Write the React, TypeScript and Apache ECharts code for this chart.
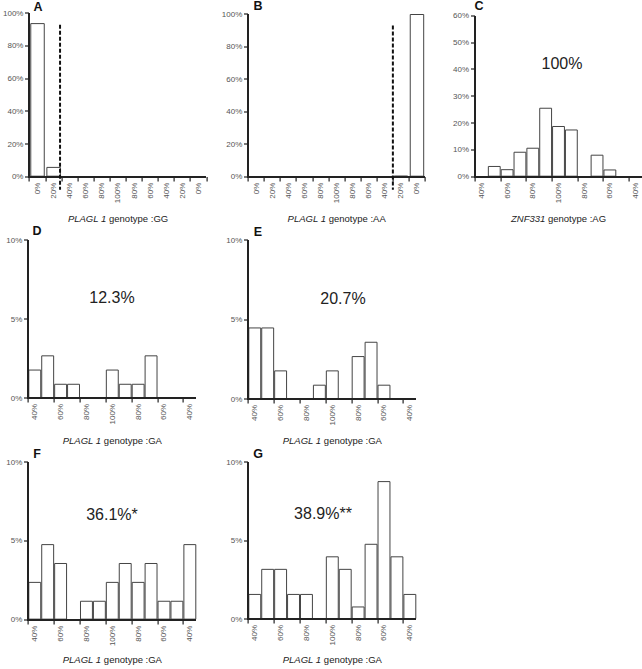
import React, { useEffect, useRef } from "react";
import * as echarts from "echarts";

// Tick labels
const labelsAB = ["0%", "20%", "40%", "60%", "80%", "100%", "80%", "60%", "40%", "20%", "0%"];
const labels13 = ["40%", "", "60%", "", "80%", "", "100%", "", "80%", "", "60%", "", "40%"];

// Series values (percent)
const valuesA = [94, 6, 0, 0, 0, 0, 0, 0, 0, 0, 0];
const valuesB = [0, 0, 0, 0, 0, 0, 0, 0, 0, 0.6, 100];
const valuesC = [0, 4.0, 2.8, 9.3, 10.8, 25.7, 18.9, 17.6, 0, 8.2, 2.7, 0, 0];
const valuesD = [1.8, 2.7, 0.9, 0.9, 0, 0, 1.8, 0.9, 0.9, 2.7, 0, 0, 0];
const valuesE = [4.5, 4.5, 1.8, 0, 0, 0.9, 1.8, 0, 2.7, 3.6, 0.9, 0, 0];
const valuesF = [2.4, 4.8, 3.6, 0, 1.2, 1.2, 2.4, 3.6, 2.4, 3.6, 1.2, 1.2, 4.8];
const valuesG = [1.6, 3.2, 3.2, 1.6, 1.6, 0, 4.0, 3.2, 0.8, 4.8, 8.8, 4.0, 1.6];

// Dashed threshold positions (in bins from the left edge) for A and B; null = none
const thresholds = [1.9, 9, null, null, null, null, null];
const thresholdTop = 93;
const thresholdBottom = -8;

const panelLetters = ["A", "B", "C", "D", "E", "F", "G"];
const panelNotes = ["", "", "100%", "12.3%", "20.7%", "36.1%*", "38.9%**"];
const panelGenes = ["PLAGL 1", "PLAGL 1", "ZNF331", "PLAGL 1", "PLAGL 1", "PLAGL 1", "PLAGL 1"];
const panelGenotypes = ["GG", "AA", "AG", "GA", "GA", "GA", "GA"];
const yMaxes = [100, 100, 60, 10, 10, 10, 10];
const yIntervals = [20, 20, 10, 5, 5, 5, 5];
const allValues = [valuesA, valuesB, valuesC, valuesD, valuesE, valuesF, valuesG];

const FONT = "'Liberation Sans', Arial, sans-serif";
const AXIS_COLOR = "#222";

// layout (absolute page px)
const boxes = [
  { x: 0, y: 0, w: 220, h: 232 },
  { x: 212, y: 0, w: 222, h: 232 },
  { x: 425, y: 0, w: 217, h: 232 },
  { x: 0, y: 222, w: 222, h: 228 },
  { x: 212, y: 222, w: 222, h: 228 },
  { x: 0, y: 444, w: 222, h: 225 },
  { x: 212, y: 444, w: 222, h: 225 },
];
const grids = [
  { left: 29, top: 13.3, width: 177.5, height: 163.4 },
  { left: 248.3, top: 14, width: 176.7, height: 162.7 },
  { left: 475, top: 15.7, width: 167.3, height: 161 },
  { left: 28.3, top: 240, width: 168, height: 159.3 },
  { left: 248.3, top: 240, width: 168, height: 163.3 },
  { left: 28.3, top: 462.3, width: 168, height: 164.4 },
  { left: 248.3, top: 462.3, width: 168, height: 161 },
];
const nameGaps = [37, 37, 37, 37, 36, 32, 35];
const letterPos = [
  [38, 7], [258, 6], [479, 6], [37, 231], [258, 232], [37, 454], [258, 454],
];
const notePos = [
  [0, 0], [0, 0], [562, 63], [112, 297], [343, 298], [112, 514], [323, 513],
];

function buildOption(i: number) {
  const b = boxes[i];
  const g = grids[i];
  const labels = i < 2 ? labelsAB : labels13;
  const nBins = labels.length;
  const tickStep = i < 2 ? 1 : 2;
  const yMax = yMaxes[i];
  const yInt = yIntervals[i];

  const series: any[] = [
    {
      type: "bar",
      data: allValues[i].map((v) => (v === 0 ? null : v)),
      barCategoryGap: i < 2 ? "10%" : "0%",
      itemStyle: { color: "#fff", borderColor: "#444", borderWidth: 1 },
      silent: true,
    },
    // axis lines and ticks as filled rects, from the grid's coordinate system
    {
      type: "custom",
      silent: true,
      z: 10,
      clip: false,
      data: [[0, 0]],
      renderItem: (params: any, api: any) => {
        const cs = params.coordSys;
        const bw = cs.width / nBins;
        const y0 = Math.round(cs.y + cs.height);
        const xl = Math.round(cs.x);
        const children: any[] = [];
        for (let k = 0; k <= nBins; k += tickStep) {
          const x = Math.round(cs.x + k * bw);
          children.push({
            type: "rect",
            shape: { x: x - 0.5, y: y0, width: 1.2, height: 4.5 },
            style: { fill: AXIS_COLOR },
          });
        }
        for (let v = 0; v <= yMax + 1e-9; v += yInt) {
          const y = Math.round(api.coord([0, v])[1]);
          children.push({
            type: "rect",
            shape: { x: xl - 4, y: y - 0.6, width: 4, height: 1.2 },
            style: { fill: AXIS_COLOR },
          });
        }
        children.push({
          type: "rect",
          shape: { x: xl - 1, y: Math.round(cs.y), width: 2, height: y0 - Math.round(cs.y) + 1 },
          style: { fill: AXIS_COLOR },
        });
        children.push({
          type: "rect",
          shape: { x: xl - 1, y: y0 - 1, width: Math.round(cs.width) + 1, height: 2 },
          style: { fill: AXIS_COLOR },
        });
        return { type: "group", children };
      },
    },
  ];
  const th = thresholds[i];
  if (th !== null) {
    series.push({
      type: "custom",
      silent: true,
      z: 11,
      data: [[0, thresholdTop, thresholdBottom, th]],
      encode: { x: 0, y: 1 },
      renderItem: (params: any, api: any) => {
        const bw = api.size([1, 0])[0];
        const c0 = api.coord([0, api.value(1)]);
        const c1 = api.coord([0, api.value(2)]);
        const x = c0[0] - bw / 2 + api.value(3) * bw;
        return {
          type: "line",
          shape: { x1: x, y1: c0[1], x2: x, y2: c1[1] },
          style: { stroke: "#111", lineWidth: 2, lineDash: [4, 2] },
        };
      },
    });
  }
  const graphics: any[] = [
    {
      type: "text",
      x: letterPos[i][0] - b.x,
      y: letterPos[i][1] - b.y,
      style: {
        text: panelLetters[i],
        fontFamily: FONT,
        fontWeight: "bold",
        fontSize: 12.5,
        fill: "#111",
        textAlign: "center",
        textVerticalAlign: "middle",
      },
    },
  ];
  if (panelNotes[i]) {
    graphics.push({
      type: "text",
      x: notePos[i][0] - b.x,
      y: notePos[i][1] - b.y,
      style: {
        text: panelNotes[i],
        fontFamily: FONT,
        fontSize: 16,
        fill: "#222",
        textAlign: "center",
        textVerticalAlign: "middle",
      },
    });
  }
  return {
    animation: false,
    grid: {
      left: g.left - b.x,
      top: g.top - b.y,
      width: g.width,
      height: g.height,
      containLabel: false,
    },
    xAxis: {
      type: "category",
      data: labels,
      boundaryGap: true,
      name: `{i|${panelGenes[i]}} genotype :${panelGenotypes[i]}`,
      nameLocation: "middle",
      nameGap: nameGaps[i],
      nameTextStyle: {
        fontFamily: FONT,
        fontSize: 9.5,
        color: "#222",
        rich: { i: { fontStyle: "italic", fontFamily: FONT, fontSize: 9.5, color: "#222" } },
      },
      axisLine: { show: false },
      axisTick: { show: false },
      axisLabel: {
        interval: i < 2 ? 0 : 1,
        rotate: 90,
        fontSize: 8,
        fontFamily: FONT,
        color: "#555",
        margin: 6,
      },
      splitLine: { show: false },
    },
    yAxis: {
      type: "value",
      min: 0,
      max: yMax,
      interval: yInt,
      axisLine: { show: false },
      axisTick: { show: false },
      axisLabel: {
        formatter: "{value}%",
        fontSize: 8,
        fontFamily: FONT,
        color: "#555",
        margin: 6,
      },
      splitLine: { show: false },
    },
    series,
    graphic: graphics,
  };
}

function Panel({ i }: { i: number }) {
  const ref = useRef<HTMLDivElement>(null);
  useEffect(() => {
    if (!ref.current) return;
    const chart = echarts.init(ref.current, null, { renderer: "svg" });
    chart.setOption(buildOption(i));
    return () => chart.dispose();
  }, [i]);
  const b = boxes[i];
  return (
    <div
      ref={ref}
      style={{ position: "absolute", left: b.x, top: b.y, width: b.w, height: b.h }}
    />
  );
}

export default function App() {
  return (
    <div
      style={{
        position: "absolute",
        left: 0,
        top: 0,
        width: 642,
        height: 669,
        background: "#fff",
        overflow: "hidden",
      }}
    >
      {panelLetters.map((_, i) => (
        <Panel key={i} i={i} />
      ))}
    </div>
  );
}
